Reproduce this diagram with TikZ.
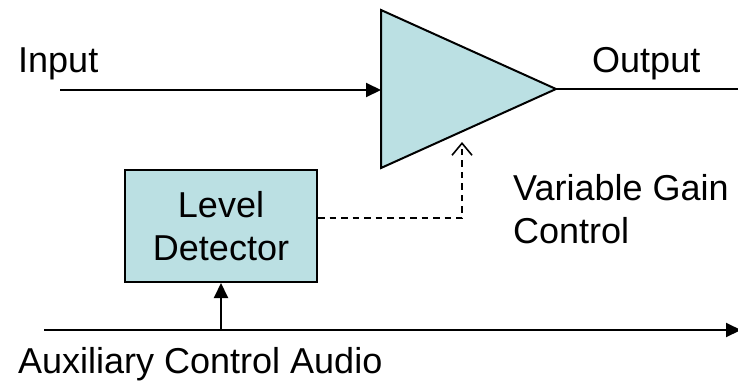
\documentclass[tikz,border=0pt]{standalone}
\usepackage{fontspec}
\setmainfont{Liberation Sans}
\usetikzlibrary{arrows.meta}
\definecolor{boxfill}{RGB}{187,224,227}
\begin{document}
\begin{tikzpicture}[x=1pt,y=-1pt,
  lbl/.style={inner sep=0pt,font=\fontsize{36}{43}\selectfont},
  conn/.style={line width=2pt},
  ftip/.style={-{Triangle[length=15pt,width=14pt]}},
  dashconn/.style={line width=1.6pt,dash pattern=on 6.5pt off 5pt,-{Straight Barb[length=12pt,width=20pt,line width=1.6pt]}},
  detbox/.style={draw,line width=2pt,fill=boxfill,minimum width=192pt,minimum height=112pt,align=center,font=\fontsize{36}{43}\selectfont}]
\useasboundingbox (0,0) rectangle (738,381);
% amplifier
\draw[line width=2pt,fill=boxfill,line join=miter] (381,10) -- (556,89) -- (381,168) -- cycle;
\coordinate (ampin) at (381,90);
\coordinate (ampout) at (556,89);
\coordinate (ctrl) at (462,142);
\coordinate (inStart) at (60,90);
\coordinate (outEnd) at (740,89);
\coordinate (auxStart) at (44,330);
\coordinate (auxEnd) at (741,330);
\coordinate (tap) at (221,330);
\coordinate (bend) at (462,218);
% detector
\node[detbox] (det) at (221,226) {Level\\Detector};
% connectors
\draw[conn,ftip] (inStart) -- (ampin);
\draw[conn] (ampout) -- (outEnd);
\draw[conn,ftip] (auxStart) -- (auxEnd);
\draw[conn,ftip] (tap) -- (det.south);
\draw[dashconn] (det.east |- bend) -- (bend) -- (ctrl);
% labels
\node[lbl,anchor=base west] (inl) at (18,72) {Input};
\node[lbl,anchor=base west] (outl) at (592,72) {Output};
\node[lbl,anchor=base west] (vgc) at (513,200) {Variable Gain};
\node[lbl,anchor=base west] (vgc2) at (513,243) {Control};
\node[lbl,anchor=base west] (aux) at (18,373) {Auxiliary Control Audio};
\end{tikzpicture}
\end{document}
